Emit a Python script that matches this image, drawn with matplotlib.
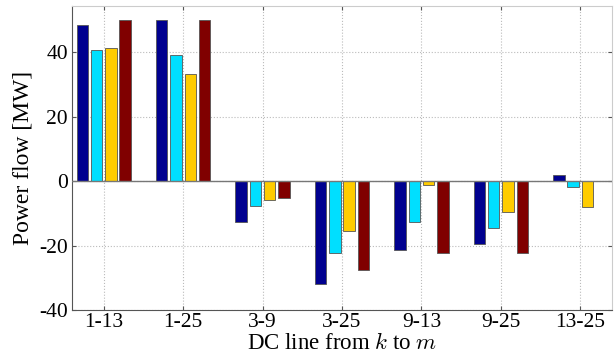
import matplotlib
matplotlib.use("Agg")
import matplotlib.pyplot as plt
import numpy as np

categories = ["1-13", "1-25", "3-9", "3-25", "9-13", "9-25", "13-25"]
series1 = [48.5, 50.0, -12.6, -32.0, -21.4, -19.5, 1.8]
series2 = [40.6, 39.1, -7.8, -22.4, -12.8, -14.7, -1.8]
series3 = [41.2, 33.2, -6.0, -15.6, -1.3, -9.5, -8.2]
series4 = [50.0, 50.0, -5.2, -27.5, -22.3, -22.3, 0.0]
colors = ["#00008F", "#00DFFF", "#FFCC00", "#800000"]
yticks = [-40, -20, 0, 20, 40]

plt.rcParams['font.family'] = ['Liberation Serif', 'DejaVu Serif']
plt.rcParams['mathtext.fontset'] = 'cm'
plt.rcParams['axes.unicode_minus'] = False

fig = plt.figure(figsize=(6.16, 3.56), dpi=100)
ax = fig.add_axes([72/616, 46/356, 540/616, 304/356])

x = np.arange(1, len(categories) + 1)
spacing = 0.18
width = 0.145
allser = [series1, series2, series3, series4]
for i, (s, c) in enumerate(zip(allser, colors)):
    ax.bar(x + (i - 1.5) * spacing, s, width, color=c, edgecolor="#555555",
           linewidth=0.6, zorder=3)

ax.axhline(0, color="#777777", linewidth=1.0, zorder=4)
ax.set_xlim(0.6, 7.4)
ax.set_ylim(-40, 54.3)
ax.set_xticks(x)
ax.set_xticklabels(categories)
ax.set_yticks(yticks)
ax.grid(True, linestyle=":", color="#bbbbbb", linewidth=0.8, zorder=0)
ax.tick_params(direction="in", length=3, labelsize=15.5, colors="#555555",
               labelcolor="black", top=True, right=True)
ax.tick_params(axis="x", pad=2)
ax.tick_params(axis="y", pad=3)
for side in ["left", "bottom"]:
    ax.spines[side].set_color("#555555")
for side in ["top", "right"]:
    ax.spines[side].set_color("#cccccc")
ax.set_ylabel("Power flow [MW]", fontsize=17, labelpad=4)
ax.set_xlabel("DC line from $k$ to $m$", fontsize=16.5, labelpad=1)

fig.savefig("out.png", dpi=100)
